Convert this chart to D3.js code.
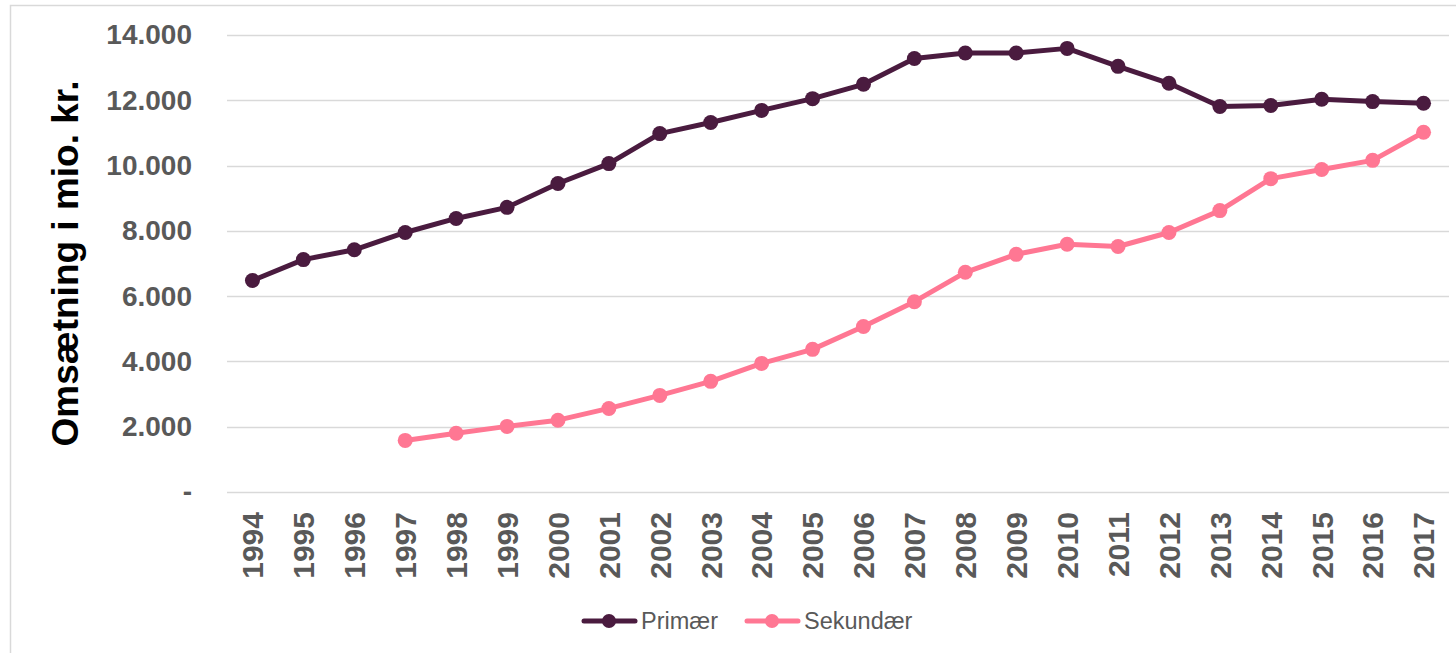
<!DOCTYPE html>
<html lang="da">
<head>
<meta charset="UTF-8">
<title>Omsætning</title>
<script src="https://d3js.org/d3.v7.min.js"></script>
<style>
  body { margin: 0; background: #fff; }
  svg { display: block; font-family: "Liberation Sans", Arial, sans-serif; }
</style>
</head>
<body>
<script>
const years = ["1994","1995","1996","1997","1998","1999","2000","2001","2002","2003","2004","2005",
               "2006","2007","2008","2009","2010","2011","2012","2013","2014","2015","2016","2017"];
const primaer = [6480, 7120, 7420, 7950, 8380, 8720, 9450, 10060, 10980, 11320, 11690, 12050,
                 12490, 13280, 13450, 13450, 13590, 13040, 12520, 11810, 11840, 12030, 11960, 11910];
const sekundaer = [null, null, null, 1580, 1800, 2010, 2200, 2560, 2960, 3390, 3940, 4370,
                   5070, 5830, 6730, 7280, 7590, 7520, 7950, 8620, 9600, 9880, 10160, 11020];
const yTicks = [0, 2000, 4000, 6000, 8000, 10000, 12000, 14000];
const seriesNames = ["Primær", "Sekundær"];
const colors = ["#4a1b3f", "#ff7793"];

const width = 1456, height = 653;
const margin = {left: 227, right: 7, top: 35, bottom: 161};

const svg = d3.select("body").append("svg")
    .attr("width", width)
    .attr("height", height);

// frame
svg.append("rect")
    .attr("x", 10.5).attr("y", 5.5)
    .attr("width", width).attr("height", height)
    .attr("fill", "none")
    .attr("stroke", "#d9d9d9")
    .attr("stroke-width", 1.5);

const x = d3.scaleBand()
    .domain(years)
    .range([margin.left, width - margin.right]);

const y = d3.scaleLinear()
    .domain([0, 14000])
    .range([height - margin.bottom, margin.top]);

const fmt = v => v === 0 ? "-" : d3.format(",")(v).replace(/,/g, ".");

// gridlines
svg.append("g")
    .selectAll("line")
    .data(yTicks)
    .join("line")
    .attr("x1", margin.left)
    .attr("x2", width - margin.right)
    .attr("y1", d => Math.round(y(d)) + 0.5)
    .attr("y2", d => Math.round(y(d)) + 0.5)
    .attr("stroke", "#d9d9d9")
    .attr("stroke-width", 1.5);

// y axis labels
const yAxis = svg.append("g")
    .attr("transform", `translate(${margin.left},0)`)
    .call(d3.axisLeft(y).tickValues(yTicks).tickFormat(fmt).tickSize(0).tickPadding(35));
yAxis.select(".domain").remove();
yAxis.selectAll("text")
    .attr("font-family", "Liberation Sans, Arial, sans-serif")
    .attr("font-size", 28)
    .attr("font-weight", "bold")
    .attr("fill", "#595959");

// x axis labels
const xAxis = svg.append("g")
    .attr("transform", `translate(0,${height - margin.bottom})`)
    .call(d3.axisBottom(x).tickSize(0).tickPadding(0));
xAxis.select(".domain").remove();
xAxis.selectAll("text")
    .attr("font-family", "Liberation Sans, Arial, sans-serif")
    .attr("font-size", 30)
    .attr("font-weight", "bold")
    .attr("fill", "#595959")
    .attr("text-anchor", "end")
    .attr("dy", "0.36em")
    .attr("y", 0)
    .attr("transform", "translate(0,20) rotate(-90)");

// y title
svg.append("text")
    .attr("transform", `translate(78,${(margin.top + height - margin.bottom) / 2}) rotate(-90)`)
    .attr("text-anchor", "middle")
    .attr("font-size", 37)
    .attr("font-weight", "bold")
    .attr("fill", "#000")
    .text("Omsætning i mio. kr.");

const cx = d => x(d) + x.bandwidth() / 2;
const series = [primaer, sekundaer];

series.forEach((vals, i) => {
  const pts = years.map((yr, j) => ({yr, v: vals[j]})).filter(p => p.v != null);
  svg.append("path")
      .datum(pts)
      .attr("fill", "none")
      .attr("stroke", colors[i])
      .attr("stroke-width", 5)
      .attr("stroke-linejoin", "round")
      .attr("d", d3.line().x(p => cx(p.yr)).y(p => y(p.v)));
  svg.append("g")
      .selectAll("circle")
      .data(pts)
      .join("circle")
      .attr("cx", p => cx(p.yr))
      .attr("cy", p => y(p.v))
      .attr("r", 7.5)
      .attr("fill", colors[i]);
});

// legend
const legendX = [582, 745];
const legend = svg.append("g").attr("transform", "translate(0,621)");
seriesNames.forEach((name, i) => {
  const g = legend.append("g").attr("transform", `translate(${legendX[i]},0)`);
  g.append("line")
      .attr("x1", 2).attr("x2", 53)
      .attr("stroke", colors[i])
      .attr("stroke-width", 5)
      .attr("stroke-linecap", "round");
  g.append("circle").attr("cx", 27).attr("r", 7).attr("fill", colors[i]);
  g.append("text")
      .attr("x", 59)
      .attr("dy", "0.35em")
      .attr("font-size", 23.5)
      .attr("fill", "#595959")
      .text(name);
});
</script>
</body>
</html>
